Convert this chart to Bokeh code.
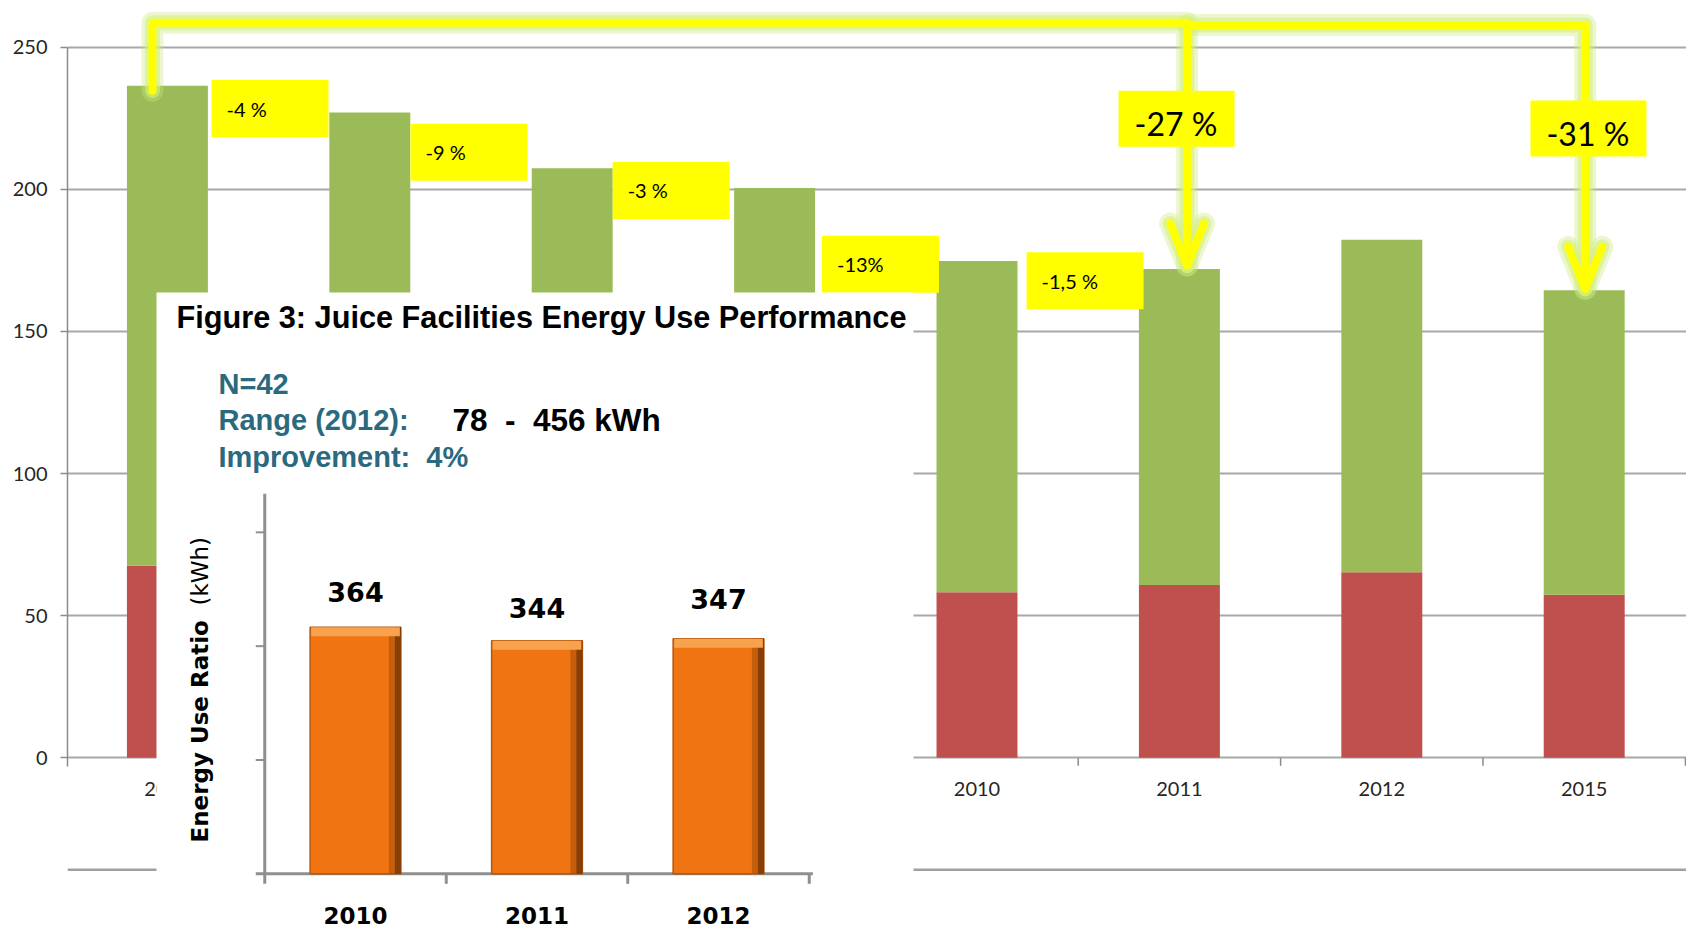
import numpy as np
from bokeh.plotting import figure
from bokeh.models import Range1d, FixedTicker
from bokeh.core.properties import value
from bokeh.embed import file_html
from bokeh.resources import INLINE

# ---------------- data: main stacked chart ----------------
years = ["2006", "2007", "2008", "2009", "2010", "2011", "2012", "2015"]
red_part = [67.6, 65.0, 62.0, 60.0, 58.2, 60.8, 65.3, 57.4]
green_part = [168.8, 162.0, 145.4, 140.5, 116.6, 111.2, 117.0, 107.1]
step_labels = ["-4 %", "-9 %", "-3 %", "-13%", "-1,5 %"]
total_labels = ["-27 %", "-31 %"]
y_ticks = [0, 50, 100, 150, 200, 250]

# ---------------- data: inset chart ----------------
inset_title = "Figure 3: Juice Facilities Energy Use Performance"
inset_years = ["2010", "2011", "2012"]
inset_values = [364, 344, 347]
inset_ticks = [168, 336, 504]
inset_n = "N=42"
inset_range_label = "Range (2012):"
inset_range_value = "78\u00a0\u00a0-\u00a0\u00a0456 kWh"
inset_improvement = "Improvement:\u00a0\u00a04%"
inset_ylabel = "Energy Use Ratio"
inset_yunit = "(kWh)"

# ---------------- geometry ----------------
W, H = 1686, 928
LEFT = 67
FRAME_W = W - LEFT
MX0 = -0.4936
MX1 = MX0 + FRAME_W / 202.4
MY1 = 757.3 / 2.8424
MY0 = -(H - 757.3) / 2.8424
PXX = FRAME_W / (MX1 - MX0)      # px per category unit
PXY = H / (MY1 - MY0)            # px per value unit

IX0 = (LEFT - 355) / 181.5
IX1 = (W - 355) / 181.5
IY1 = 873.3 / 0.6775
IY0 = -(H - 873.3) / 0.6775
IPXX = FRAME_W / (IX1 - IX0)
IPXY = H / (IY1 - IY0)

idx = np.arange(len(years), dtype=float)
red = np.array(red_part)
totals = red + np.array(green_part)

GREEN = "#9BBB59"
RED = "#C0504D"
YELLOW = "#FFFF00"
TEAL = "#2B6A7E"
GRID = "#a8a8a8"
AXIS = "#8c8c8c"

p = figure(width=W, height=H, output_backend="svg", toolbar_location=None,
           x_range=Range1d(MX0, MX1), y_range=Range1d(MY0, MY1),
           x_axis_location=None, y_axis_location="left",
           min_border_left=LEFT, min_border_right=0, min_border_top=0, min_border_bottom=0,
           outline_line_color=None, background_fill_color="white", border_fill_color="white")
p.title.visible = False
p.extra_x_ranges = {"ix": Range1d(IX0, IX1), "px": Range1d(LEFT, W)}
p.extra_y_ranges = {"iy": Range1d(IY0, IY1), "py": Range1d(H, 0)}

# y axis
ax = p.yaxis[0]
ax.ticker = FixedTicker(ticks=y_ticks)
ax.bounds = (-2.9, 250)
ax.axis_line_color = AXIS
ax.axis_line_width = 1.5
ax.major_tick_line_color = AXIS
ax.major_tick_line_width = 1.5
ax.major_tick_out = 7
ax.major_tick_in = 0
ax.minor_tick_line_color = None
ax.major_label_standoff = 13
ax.major_label_text_font = "Lato"
ax.major_label_text_font_size = "20px"
ax.major_label_text_color = "#262626"

p.xgrid.visible = False
p.ygrid.ticker = FixedTicker(ticks=y_ticks)
p.ygrid.grid_line_color = GRID
p.ygrid.grid_line_width = 1.8

# main stacked bars
p.vbar(x=idx, width=0.4, bottom=0, top=red, fill_color=RED, line_color=None)
p.vbar(x=idx, width=0.4, bottom=red, top=totals, fill_color=GREEN, line_color=None)

# category ticks and labels on the x axis line (value 0)
p.segment(x0=idx + 0.5, x1=idx + 0.5, y0=0, y1=-8 / PXY, line_color=AXIS, line_width=1.5)
p.text(x=idx, y=np.full(len(idx), -31 / PXY), text=years, text_font=value("Lato"),
       text_font_size="20px", text_color="#262626", text_align="center",
       text_baseline="middle")

# step labels (yellow boxes)
box_dx = np.array([0.218, 0.201, 0.200, 0.234, 0.245])
box_dy = np.array([1.4, 5.6, -0.9, -1.2, -4.2])
bw = 117 / PXX
bh = 57 / PXY
bl = idx[:5] + box_dx
bc = totals[1:6] + box_dy
p.quad(left=bl, right=bl + bw, bottom=bc - bh / 2, top=bc + bh / 2,
       fill_color=YELLOW, line_color=None)
p.text(x=bl + 15 / PXX, y=bc, text=step_labels, text_font=value("Lato"),
       text_font_size="20px", text_color="black", text_align="left",
       text_baseline="middle")

# arrows with glow
tip_a = (idx[5] + 0.038, totals[5] + 1.2)
tip_b = (idx[7] + 0.005, totals[7] + 0.5)
top_a = MY1 - 22.3 / PXY
top_b = MY1 - 24.5 / PXY
start_x = idx[0] - 0.074
paths_x = [[start_x, start_x, tip_a[0], tip_a[0]],
           [tip_a[0], tip_b[0], tip_b[0]]]
paths_y = [[totals[0] - 1.7, top_a, top_a, tip_a[1]],
           [top_b, top_b, tip_b[1]]]
hx = 17 / PXX
hy = 42 / PXY
for tip in (tip_a, tip_b):
    paths_x.append([tip[0] - hx, tip[0], tip[0] + hx])
    paths_y.append([tip[1] + hy, tip[1], tip[1] + hy])
for color, w, a in (("#c9e87a", 22, 0.35), ("#d6f07c", 15, 0.6), (YELLOW, 8, 1.0)):
    p.multi_line(xs=paths_x, ys=paths_y, line_color=color, line_width=w, line_alpha=a,
                 line_join="round", line_cap="round")

# overall change labels
big_x = np.array([idx[5] - 0.014, idx[7] + 0.021])
big_y = np.array([224.8, 221.4])
bbw = 116 / PXX
bbh = 56 / PXY
p.quad(left=big_x - bbw / 2, right=big_x + bbw / 2, bottom=big_y - bbh / 2,
       top=big_y + bbh / 2, fill_color=YELLOW, line_color=None)
p.text(x=big_x - bbw / 2 + 16 / PXX, y=big_y - 5 / PXY, text=total_labels,
       text_font=value("Lato"), text_font_size="32px", text_color="black",
       text_align="left", text_baseline="middle")

# separator line of the slide
p.segment(x0=[LEFT], x1=[W], y0=[869.3], y1=[869.3], x_range_name="px",
          y_range_name="py", line_color="#a0a0a0", line_width=2.5)

# ---------------- inset ----------------
p.quad(left=[156], right=[913], top=[292], bottom=[H + 20], x_range_name="px",
       y_range_name="py", fill_color="white", line_color=None)

p.text(x=[176], y=[316.5], text=[inset_title], x_range_name="px", y_range_name="py",
       text_font=value("Liberation Sans"), text_font_style="bold", text_font_size="30.7px",
       text_color="black", text_baseline="alphabetic")
p.text(x=[218, 218, 218], y=[383, 419, 456],
       text=[inset_n, inset_range_label, inset_improvement], x_range_name="px",
       y_range_name="py", text_font=value("Liberation Sans"), text_font_style="bold",
       text_font_size="29px", text_color=TEAL, text_baseline="alphabetic")
p.text(x=[452], y=[419], text=[inset_range_value], x_range_name="px", y_range_name="py",
       text_font=value("Liberation Sans"), text_font_style="bold", text_font_size="31.5px",
       text_color="black", text_baseline="alphabetic")

iidx = np.arange(len(inset_years), dtype=float)
ivals = np.array(inset_values, dtype=float)
IAX = "#8f8f8f"
# inset axes
p.segment(x0=[-0.5], x1=[-0.5], y0=[-10 / IPXY], y1=[561], x_range_name="ix",
          y_range_name="iy", line_color=IAX, line_width=3)
p.segment(x0=[-0.5 - 9 / IPXX], x1=[2.52], y0=[0], y1=[0], x_range_name="ix",
          y_range_name="iy", line_color=IAX, line_width=3)
p.segment(x0=np.full(3, -0.5 - 9 / IPXX), x1=np.full(3, -0.5), y0=inset_ticks,
          y1=inset_ticks, x_range_name="ix", y_range_name="iy", line_color=IAX,
          line_width=2)
p.segment(x0=iidx + 0.5, x1=iidx + 0.5, y0=np.zeros(3), y1=np.full(3, -10 / IPXY),
          x_range_name="ix", y_range_name="iy", line_color=IAX, line_width=3)

# inset bars with bevel
p.vbar(x=iidx, width=0.5, bottom=0, top=ivals, x_range_name="ix", y_range_name="iy",
       fill_color="#F07412", line_color="#B5560C", line_width=1.5)
p.vbar(x=iidx + 0.25 - 6 / IPXX, width=12 / IPXX, bottom=0, top=ivals, x_range_name="ix",
       y_range_name="iy", fill_color="#A34D0A", fill_alpha=0.55, line_color=None)
p.vbar(x=iidx + 0.25 - 3 / IPXX, width=6 / IPXX, bottom=0, top=ivals, x_range_name="ix",
       y_range_name="iy", fill_color="#5E2A04", fill_alpha=0.6, line_color=None)
p.vbar(x=iidx, width=0.5 - 2 / IPXX, bottom=ivals - 9 / IPXY, top=ivals,
       x_range_name="ix", y_range_name="iy", fill_color="#F8A24E", line_color=None)

label_lift = np.array([35, 33, 40]) / IPXY
p.text(x=iidx, y=ivals + label_lift, text=[str(v) for v in inset_values],
       x_range_name="ix", y_range_name="iy", text_font=value("DejaVu Sans"),
       text_font_style="bold", text_font_size="27px", text_color="black",
       text_align="center", text_baseline="middle")
p.text(x=iidx, y=np.full(3, -42 / IPXY), text=inset_years, x_range_name="ix",
       y_range_name="iy", text_font=value("DejaVu Sans"), text_font_style="bold",
       text_font_size="23px", text_color="black", text_align="center",
       text_baseline="middle")

# inset y label (rotated)
p.text(x=[199], y=[842], text=[inset_ylabel], angle=np.pi / 2, x_range_name="px",
       y_range_name="py", text_font=value("DejaVu Sans"), text_font_style="bold",
       text_font_size="23px", text_color="black", text_align="left",
       text_baseline="middle")
p.text(x=[199], y=[605], text=[inset_yunit], angle=np.pi / 2, x_range_name="px",
       y_range_name="py", text_font=value("DejaVu Sans"), text_font_size="23px",
       text_color="black", text_align="left", text_baseline="middle")

open("out.html", "w").write(file_html(p, INLINE))
